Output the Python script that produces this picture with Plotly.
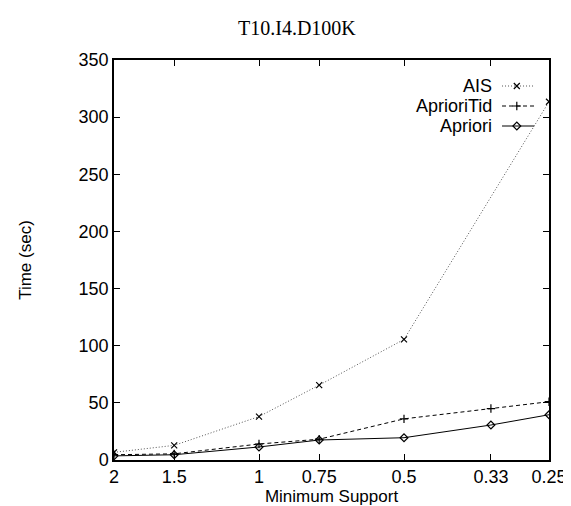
import math
import plotly.graph_objects as go

support = [2, 1.5, 1, 0.75, 0.5, 0.33, 0.25]
support_labels = ["2", "1.5", "1", "0.75", "0.5", "0.33", "0.25"]
ais_support = [2, 1.5, 1, 0.75, 0.5, 0.25]
ais_time = [6.7, 12.8, 38, 65.5, 105.5, 313.5]
tid_time = [4.6, 5.4, 14, 18.2, 36, 45, 51]
apriori_time = [3.6, 4.6, 11.4, 17.5, 19.5, 30.6, 39.6]
y_ticks = [0, 50, 100, 150, 200, 250, 300, 350]

series_names = ["AIS", "AprioriTid", "Apriori"]
series_dash = ["1px,2px", "4px,3px", "solid"]
series_symbol = ["x-thin-open", "cross-thin-open", "diamond-open"]
series_linecolor = ["#555555", "black", "black"]

fig = go.Figure()
data = [(ais_support, ais_time), (support, tid_time), (support, apriori_time)]
for (xs, ys), name, dash, sym, lc in zip(data, series_names, series_dash, series_symbol, series_linecolor):
    fig.add_trace(go.Scatter(
        x=xs, y=ys, mode="lines+markers", name=name,
        line=dict(color=lc, width=1, dash=dash),
        marker=dict(symbol=sym, size=6, color="black", line=dict(color="black", width=1.2)),
        showlegend=False,
    ))

# manual legend (text right-aligned, key sample on the right) drawn on overlay axes
leg_y = [0.935, 0.885, 0.835]
for name, dash, sym, lc, ly in zip(series_names, series_dash, series_symbol, series_linecolor, leg_y):
    fig.add_trace(go.Scatter(
        x=[0.892, 0.966], y=[ly, ly], mode="lines", xaxis="x2", yaxis="y2",
        line=dict(color=lc, width=1, dash=dash), showlegend=False, hoverinfo="skip"))
    fig.add_trace(go.Scatter(
        x=[0.926], y=[ly], mode="markers", xaxis="x2", yaxis="y2",
        marker=dict(symbol=sym, size=6, color="black", line=dict(color="black", width=1.2)),
        showlegend=False, hoverinfo="skip"))
    fig.add_annotation(x=0.874, y=ly, xref="x2", yref="y2", text=name, showarrow=False,
                       xanchor="right", yanchor="middle",
                       font=dict(family="Liberation Sans, Arial", size=18, color="black"))

fig.update_layout(
    width=571, height=506,
    margin=dict(l=106, r=21, t=52, b=54),
    paper_bgcolor="white", plot_bgcolor="white",
    title=dict(text="T10.I4.D100K", x=0.506, xanchor="center", y=0.96, yanchor="middle",
               font=dict(family="Liberation Serif, DejaVu Serif, serif", size=20, color="black")),
    font=dict(family="Liberation Sans, Arial", size=18, color="black"),
    xaxis=dict(type="log", range=[math.log10(2), math.log10(0.25)],
               tickvals=support, ticktext=support_labels,
               ticks="inside", ticklen=6, tickcolor="black",
               showline=True, linecolor="black", linewidth=1.5, mirror="ticks",
               showgrid=False, zeroline=False,
               title=dict(text="Minimum Support", standoff=0, font=dict(size=17))),
    yaxis=dict(range=[0, 350], tickvals=y_ticks,
               ticks="inside", ticklen=6, tickcolor="black",
               showline=True, linecolor="black", linewidth=1.5, mirror="ticks",
               showgrid=False, zeroline=False,
               title=dict(text="Time (sec)", standoff=43, font=dict(size=17))),
    xaxis2=dict(range=[0, 1], overlaying="x", visible=False, fixedrange=True),
    yaxis2=dict(range=[0, 1], overlaying="y", visible=False, fixedrange=True),
)

fig.write_html("out.html")
